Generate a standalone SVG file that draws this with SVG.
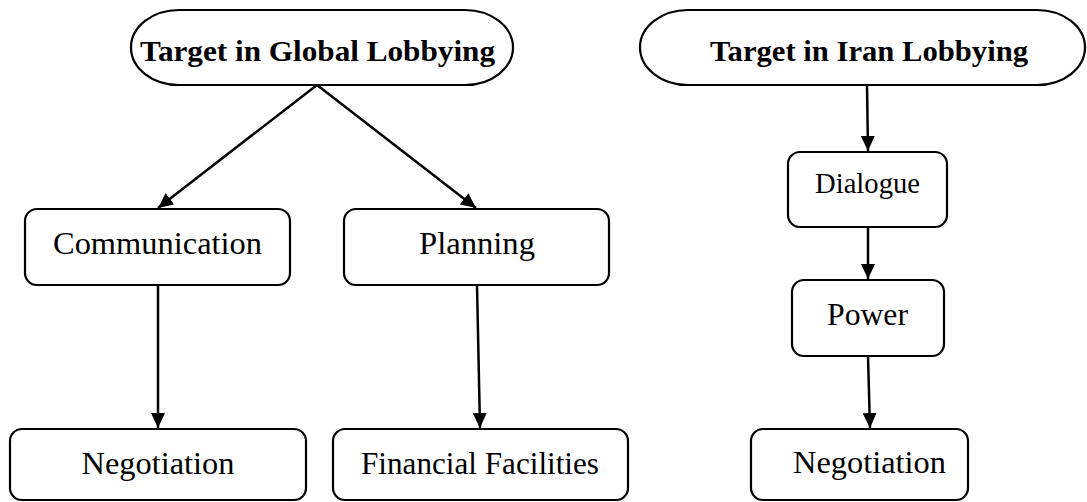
<svg xmlns="http://www.w3.org/2000/svg" width="1087" height="502" viewBox="0 0 1087 502">
<style>
.box{fill:#fff;stroke:#000;stroke-width:2.2}
.t{font-family:"Liberation Serif","Times New Roman",serif;font-size:31px;fill:#000;text-anchor:middle}
.b{font-weight:bold;font-size:30px}
.c{stroke:#000;stroke-width:2.5;fill:none;marker-end:url(#ah)}
</style>
<defs>
<marker id="ah" markerUnits="userSpaceOnUse" markerWidth="15" markerHeight="14" viewBox="0 0 15 14" refX="15" refY="7" orient="auto">
<path d="M0,0 L15,7 L0,14 Z" fill="#000"/>
</marker>
</defs>
<g id="connectors">
<line class="c" x1="317" y1="85" x2="158" y2="208"/>
<line class="c" x1="317" y1="85" x2="476" y2="208"/>
<line class="c" x1="158" y1="285" x2="158" y2="428"/>
<line class="c" x1="477" y1="285" x2="480" y2="428"/>
<line class="c" x1="867" y1="85" x2="868" y2="151"/>
<line class="c" x1="868" y1="227" x2="868" y2="279"/>
<line class="c" x1="868" y1="356" x2="870" y2="428"/>
</g>
<g id="global">
<rect class="box" x="131" y="10" width="382" height="75" rx="48" ry="37.5"/>
<text class="t b" x="317.5" y="61" textLength="355" lengthAdjust="spacingAndGlyphs">Target in Global Lobbying</text>
</g>
<g id="iran">
<rect class="box" x="640" y="10" width="445" height="75" rx="48" ry="37.5"/>
<text class="t b" x="869" y="61" textLength="318" lengthAdjust="spacingAndGlyphs">Target in Iran Lobbying</text>
</g>
<g id="communication">
<rect class="box" x="25" y="209" width="265" height="76" rx="12"/>
<text class="t" x="157.5" y="254" textLength="209" lengthAdjust="spacingAndGlyphs">Communication</text>
</g>
<g id="planning">
<rect class="box" x="344" y="209" width="265" height="76" rx="12"/>
<text class="t" x="477" y="254" textLength="116" lengthAdjust="spacingAndGlyphs">Planning</text>
</g>
<g id="negotiation-left">
<rect class="box" x="10" y="429" width="296" height="71" rx="12"/>
<text class="t" x="158" y="474" textLength="153" lengthAdjust="spacingAndGlyphs">Negotiation</text>
</g>
<g id="financial">
<rect class="box" x="333" y="429" width="295" height="71" rx="12"/>
<text class="t" x="480" y="474" textLength="238" lengthAdjust="spacingAndGlyphs">Financial Facilities</text>
</g>
<g id="dialogue">
<rect class="box" x="788" y="152" width="159" height="75" rx="12"/>
<text class="t" x="867.5" y="193" style="font-size:29px" textLength="105" lengthAdjust="spacingAndGlyphs">Dialogue</text>
</g>
<g id="power">
<rect class="box" x="792" y="280" width="152" height="76" rx="12"/>
<text class="t" x="867.5" y="325" textLength="81" lengthAdjust="spacingAndGlyphs">Power</text>
</g>
<g id="negotiation-right">
<rect class="box" x="751" y="429" width="217" height="71" rx="12"/>
<text class="t" x="869.5" y="473" textLength="153" lengthAdjust="spacingAndGlyphs">Negotiation</text>
</g>
</svg>
